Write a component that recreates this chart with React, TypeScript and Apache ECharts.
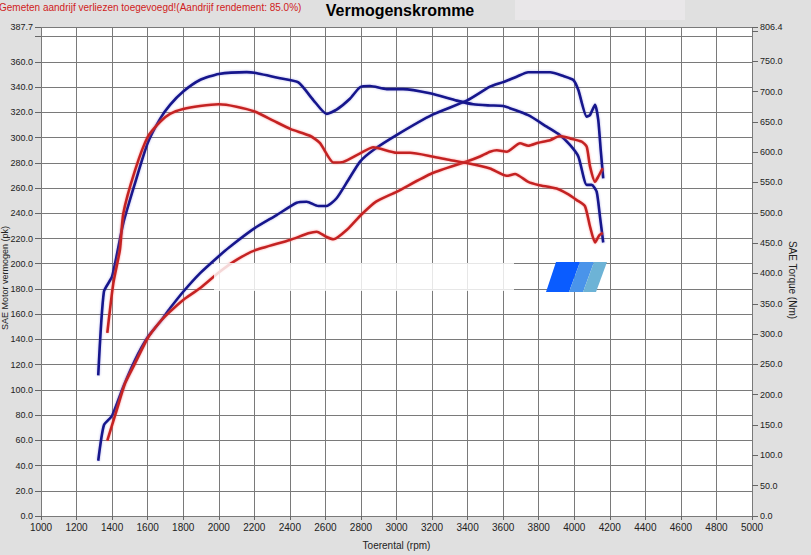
import React, { useEffect, useRef } from "react";
import * as echarts from "echarts";

// Engine power, blue (pk)
const powerBlueRpm = [1322, 1354, 1400, 1463, 1529, 1600, 1670, 1726, 1800, 1894, 2000, 2063, 2200, 2326, 2438, 2495, 2560, 2607, 2663, 2729, 2795, 2870, 3000, 3200, 3395, 3526, 3600, 3676, 3741, 3864, 3939, 3995, 4023, 4070, 4089, 4117, 4135, 4149, 4163];
const powerBlue = [43.8, 72, 79.5, 102.5, 123.7, 141.7, 154, 164.7, 177.8, 192.4, 206, 213.5, 228, 238.6, 248.4, 249.2, 245.8, 245.8, 251.9, 266.4, 281, 290.2, 302, 318, 329.3, 340.4, 344, 348.3, 351.8, 351.8, 348.8, 345.7, 337.7, 316.6, 318, 326, 314, 290, 267.7];

// Engine torque, blue (Nm)
const torqueBlueRpm = [1322, 1354, 1400, 1463, 1529, 1600, 1670, 1726, 1800, 1894, 2000, 2157, 2200, 2345, 2448, 2532, 2607, 2663, 2738, 2795, 2851, 2945, 3038, 3188, 3339, 3432, 3526, 3600, 3741, 3845, 3920, 3976, 4023, 4070, 4098, 4126, 4145, 4163];
const torqueBlue = [232, 370, 395, 483, 549, 615, 655, 678, 700, 719, 729, 732, 731, 722, 715, 686, 663, 670, 688, 707, 709, 704, 704, 697, 685, 679, 677, 676, 661, 642, 628, 612, 593, 546, 546, 535, 493, 451];

// Power with losses, red (pk)
const powerRedRpm = [1373, 1426, 1473, 1529, 1600, 1670, 1726, 1800, 1894, 2000, 2100, 2200, 2400, 2504, 2551, 2604, 2645, 2729, 2800, 2885, 3000, 3200, 3395, 3470, 3526, 3564, 3620, 3695, 3741, 3798, 3864, 3920, 3976, 4042, 4070, 4089, 4117, 4135, 4160];
const powerRed = [59.7, 84, 105.2, 121, 140.9, 154, 162, 171.3, 180.5, 193, 203, 210.4, 218.8, 224.1, 225.4, 221.4, 219.4, 228, 238.6, 249.2, 257, 271.7, 281, 285, 288.8, 290, 288.8, 295.5, 293.6, 296, 298, 301.3, 299.4, 296.8, 292.8, 277, 265, 269, 275.7];

// Torque with losses, red (Nm)
const torqueRedRpm = [1373, 1407, 1444, 1463, 1529, 1600, 1670, 1726, 1800, 1894, 2000, 2100, 2202, 2307, 2405, 2513, 2570, 2645, 2701, 2795, 2870, 3000, 3076, 3200, 3300, 3395, 3526, 3620, 3667, 3741, 3798, 3901, 3957, 4014, 4060, 4089, 4117, 4141, 4160];
const torqueRed = [302, 384, 439, 499, 570, 625, 650, 663, 671, 676, 679, 675, 667, 652, 638, 627, 615, 583, 584, 598, 608, 599, 599, 593, 587, 582, 573, 561, 564, 551, 546, 540, 532, 521, 511, 477, 451, 463, 467];

const powerMax = 387.7;
const torqueMax = 806.4;

const titleText = "Vermogenskromme";
const subtitleText = "Gemeten aandrijf verliezen toegevoegd!(Aandrijf rendement: 85.0%)";
const xName = "Toerental (rpm)";
const leftName = "SAE Motor vermogen (pk)";
const rightName = "SAE Torque (Nm)";

const pair = (xs: number[], ys: number[]) => xs.map((x, i) => [x, ys[i]]);

const BLUE = "#17178c";
const RED = "#c42424";
const FONT = "Liberation Sans, Arial, sans-serif";

export default function App() {
  const ref = useRef<HTMLDivElement>(null);
  useEffect(() => {
    document.body.style.margin = "0";
    if (!ref.current) return;
    const chart = echarts.init(ref.current, undefined, { renderer: "svg" });
    const lineSeries = (name: string, data: number[][], color: string, yIdx: number) => ({
      name,
      type: "line",
      yAxisIndex: yIdx,
      data,
      showSymbol: false,
      smooth: 0.2,
      lineStyle: {
        color,
        width: 2.6,
        shadowColor: color === RED ? "rgba(255,90,90,0.6)" : "rgba(60,60,200,0.4)",
        shadowBlur: 2,
      },
      z: 3,
    });
    chart.setOption({
      animation: false,
      backgroundColor: "#e0e0e0",
      textStyle: { fontFamily: FONT },
      grid: {
        left: 41,
        right: 59,
        top: 27,
        bottom: 39,
        show: true,
        backgroundColor: "#ffffff",
        borderWidth: 0,
      },
      xAxis: {
        type: "value",
        min: 1000,
        max: 5000,
        interval: 200,
        name: xName,
        nameLocation: "middle",
        nameGap: 24,
        nameTextStyle: { fontSize: 10, color: "#222", fontFamily: FONT },
        axisLine: { show: false },
        axisTick: { show: true, length: 4, lineStyle: { color: "#666" } },
        axisLabel: {
          fontSize: 10,
          color: "#222",
          margin: 6,
          fontFamily: FONT,
          formatter: (v: number) => String(Math.round(v)),
        },
        splitLine: { show: true, lineStyle: { color: "#7a7a7a", width: 1 } },
      },
      yAxis: [
        {
          type: "value",
          min: 0,
          max: powerMax,
          interval: 20,
          position: "left",
          axisLine: { show: false },
          axisTick: { show: true, length: 6, lineStyle: { color: "#666" } },
          axisLabel: {
            fontSize: 9,
            color: "#222",
            margin: 8,
            fontFamily: FONT,
            showMaxLabel: true,
            formatter: (v: number) => (Math.abs(v - 380) < 0.01 ? "" : v.toFixed(1)),
          },
          splitLine: { show: true, lineStyle: { color: "#7a7a7a", width: 1 } },
        },
        {
          type: "value",
          min: 0,
          max: torqueMax,
          interval: 50,
          position: "right",
          axisLine: { show: false },
          axisTick: { show: true, length: 6, lineStyle: { color: "#666" } },
          axisLabel: {
            fontSize: 9,
            color: "#222",
            margin: 8,
            fontFamily: FONT,
            showMaxLabel: true,
            formatter: (v: number) => (Math.abs(v - 800) < 0.01 ? "" : v.toFixed(1)),
          },
          splitLine: { show: false },
        },
      ],
      graphic: [
        {
          type: "rect",
          shape: { x: 515, y: 0, width: 170, height: 20 },
          style: { fill: "#e9e7e9" },
          z: 1,
          silent: true,
        },
        {
          type: "text",
          x: 400,
          y: 10,
          style: {
            text: titleText,
            fill: "#000",
            font: "bold 16px " + FONT,
            textAlign: "center",
            textVerticalAlign: "middle",
          },
          z: 5,
        },
        {
          type: "text",
          x: -1,
          y: 7,
          style: {
            text: subtitleText,
            fill: "#d01c1c",
            font: "10px " + FONT,
            textAlign: "left",
            textVerticalAlign: "middle",
          },
          z: 5,
        },
        {
          type: "text",
          x: 5,
          y: 278,
          rotation: Math.PI / 2,
          style: {
            text: leftName,
            fill: "#222",
            font: "9px " + FONT,
            textAlign: "center",
            textVerticalAlign: "middle",
          },
          z: 5,
        },
        {
          type: "text",
          x: 792,
          y: 280,
          rotation: -Math.PI / 2,
          style: {
            text: rightName,
            fill: "#222",
            font: "10px " + FONT,
            textAlign: "center",
            textVerticalAlign: "middle",
          },
          z: 5,
        },
        {
          type: "rect",
          shape: { x: 214, y: 263, width: 300, height: 28 },
          style: { fill: "rgba(255,255,255,0.82)" },
          z: 10,
          silent: true,
        },
        {
          type: "polygon",
          shape: { points: [[556, 262], [580, 262], [569, 292], [546, 292]] },
          style: { fill: "#0a5cff" },
          z: 11,
        },
        {
          type: "polygon",
          shape: { points: [[580, 262], [594, 262], [583, 292], [569, 292]] },
          style: { fill: "#4a94ea" },
          z: 11,
        },
        {
          type: "polygon",
          shape: { points: [[594, 262], [607, 262], [596, 292], [583, 292]] },
          style: { fill: "#6db3d6" },
          z: 11,
        },
      ],
      series: [
        lineSeries("Vermogen", pair(powerBlueRpm, powerBlue), BLUE, 0),
        lineSeries("Koppel", pair(torqueBlueRpm, torqueBlue), BLUE, 1),
        lineSeries("Vermogen (verlies)", pair(powerRedRpm, powerRed), RED, 0),
        lineSeries("Koppel (verlies)", pair(torqueRedRpm, torqueRed), RED, 1),
      ],
    });
    return () => chart.dispose();
  }, []);
  return <div ref={ref} style={{ width: 811, height: 555 }} />;
}
